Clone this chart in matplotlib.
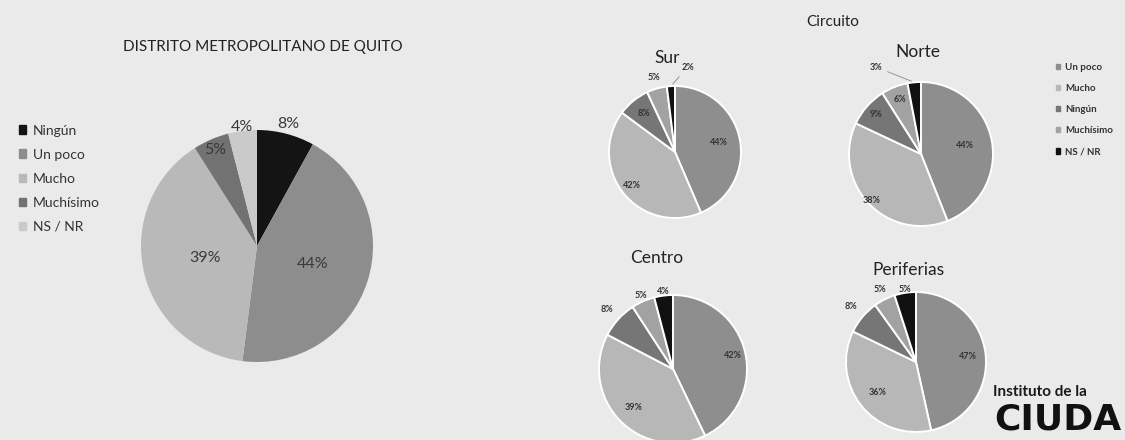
import matplotlib.pyplot as plt
import numpy as np
from matplotlib.patches import Patch

plt.rcParams["font.family"] = ["Lato", "DejaVu Sans"]

# Distrito Metropolitano de Quito
main_labels = ["Ningún", "Un poco", "Mucho", "Muchísimo", "NS / NR"]
main_values = [8, 44, 39, 5, 4]

# Circuitos
circuit_labels = ["Un poco", "Mucho", "Ningún", "Muchísimo", "NS / NR"]
sur = [44, 42, 8, 5, 2]
norte = [44, 38, 9, 6, 3]
centro = [42, 39, 8, 5, 4]
periferias = [47, 36, 8, 5, 5]

W, H = 1125, 440
BG = "#eaeaea"

main_colors = ["#141414", "#8d8d8d", "#b9b9b9", "#727272", "#cacaca"]
circuit_colors = ["#8e8e8e", "#b7b7b7", "#767676", "#a2a2a2", "#111111"]


def pie_axes(fig, cx, cy, r, pad=1.03):
    rr = r * pad
    ax = fig.add_axes([(cx - rr) / W, (H - cy - rr) / H, 2 * rr / W, 2 * rr / H])
    return ax


def mid_angle(w):
    return np.deg2rad((w.theta1 + w.theta2) / 2)


fig = plt.figure(figsize=(W / 100, H / 100), dpi=100, facecolor=BG)

# --- main pie ---
ax = pie_axes(fig, 257, 246, 116)
wedges, _ = ax.pie(main_values, colors=main_colors, startangle=90,
                   counterclock=False, wedgeprops=dict(edgecolor="none"))
ax.set_xlim(-1.03, 1.03)
ax.set_ylim(-1.03, 1.03)
main_dist = [1.09, 0.5, 0.46, 0.9, 1.03]
for w, v, d in zip(wedges, main_values, main_dist):
    a = mid_angle(w)
    ax.text(d * np.cos(a), d * np.sin(a), f"{v}%", ha="center", va="center",
            fontsize=11.5, color="#3a3a3a")

fig.text(263 / W, 1 - 47 / H, "DISTRITO METROPOLITANO DE QUITO", ha="center",
         va="center", fontsize=11, color="#222222")

fig.legend([Patch(color=c) for c in main_colors], main_labels,
           loc="upper left", bbox_to_anchor=(6 / W, 1 - 112 / H), frameon=False,
           fontsize=10, handlelength=0.55, handleheight=0.55, handletextpad=0.5,
           labelspacing=0.87, labelcolor="#333333")

# --- circuit pies ---
fig.text(833 / W, 1 - 22 / H, "Circuito", ha="center", va="center",
         fontsize=11, color="#222222")

pies = [
    ("Sur", sur, (675, 152, 66), (667, 58), [0.68, 0.83, 0.75, 1.17, 1.3], -12),
    ("Norte", norte, (921, 154, 72), (918, 52), [0.62, 0.95, 0.84, 0.81, 1.36], 22),
    ("Centro", centro, (673, 369, 74), (657, 258), [0.83, 0.75, 1.2, 1.08, 1.05], 0),
    ("Periferias", periferias, (916, 362, 70), (908, 270), [0.74, 0.7, 1.22, 1.16, 1.05], 0),
]

for name, vals, (cx, cy, r), (tx, ty), dists, leader in pies:
    ax = pie_axes(fig, cx, cy, r)
    wedges, _ = ax.pie(vals, colors=circuit_colors, startangle=90,
                       counterclock=False,
                       wedgeprops=dict(edgecolor="white", linewidth=1.4))
    ax.set_xlim(-1.03, 1.03)
    ax.set_ylim(-1.03, 1.03)
    for i, (w, v, d) in enumerate(zip(wedges, vals, dists)):
        a = mid_angle(w)
        if i == len(vals) - 1 and leader:
            b = a + np.deg2rad(leader)
            ax.annotate(f"{v}%", xy=(1.0 * np.cos(a), 1.0 * np.sin(a)),
                        xytext=(d * np.cos(b), d * np.sin(b)),
                        ha="center", va="center", fontsize=6.5, fontweight="bold",
                        color="#333333",
                        arrowprops=dict(arrowstyle="-", color="#888888", lw=0.6))
        else:
            ax.text(d * np.cos(a), d * np.sin(a), f"{v}%", ha="center",
                    va="center", fontsize=6.5, fontweight="bold", color="#333333")
    fig.text(tx / W, 1 - ty / H, name, ha="center", va="center",
             fontsize=12.5, color="#222222")

fig.legend([Patch(color=c) for c in circuit_colors], circuit_labels,
           loc="upper left", bbox_to_anchor=(1047 / W, 1 - 54 / H), frameon=False,
           prop=dict(size=7, weight="bold"), handlelength=0.45, handleheight=0.45,
           handletextpad=0.5, labelspacing=1.25, labelcolor="#333333")

# logo
fig.text(993 / W, 1 - 392 / H, "Instituto de la", ha="left", va="center",
         fontsize=11, fontweight="bold", color="#1a1a1a")
fig.text(994 / W, 1 - 419 / H, "CIUDA", ha="left", va="center",
         fontsize=26, fontweight="bold", color="#111111",
         family=["DejaVu Sans"])

fig.savefig("out.png", dpi=100, facecolor=BG)
